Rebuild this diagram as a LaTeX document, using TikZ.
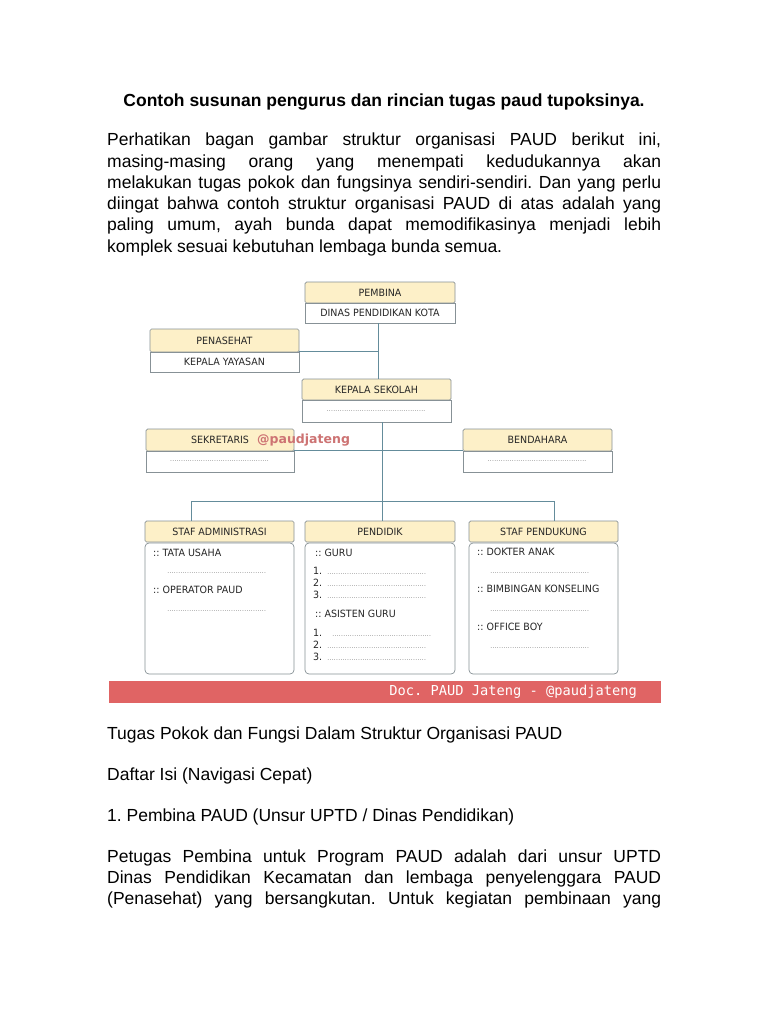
\documentclass[tikz,border=0pt]{standalone}
\usepackage{fontspec}
\setmainfont{Liberation Sans}
\newfontfamily\boxfont[FakeStretch=0.95]{DejaVu Sans}
\newfontfamily\wmfont{DejaVu Sans}
\newfontfamily\bannerfont{DejaVu Sans Mono}
\definecolor{hdrfill}{RGB}{253,240,200}
\definecolor{boxline}{RGB}{135,145,150}
\definecolor{conncol}{RGB}{100,140,155}
\definecolor{bannercol}{RGB}{224,100,100}
\definecolor{wmark}{RGB}{205,115,115}
\definecolor{dotcol}{RGB}{110,110,110}
\newcommand{\dotrow}[1]{\makebox[#1]{\leaders\hbox to 2.2pt{\hss.\hss}\hfill}}
\newcommand{\jline}[1]{\makebox[554pt][s]{#1}}
\frenchspacing
\begin{document}
\begin{tikzpicture}[x=1pt,y=-1pt,
  hdr/.style={draw=boxline, line width=0.7pt, fill=hdrfill, rounded corners=1.5pt, inner sep=0pt,
    font=\boxfont\fontsize{10}{12}\selectfont, text=black!85},
  bodyb/.style={draw=boxline, line width=0.7pt, fill=white, inner sep=0pt,
    font=\boxfont\fontsize{10}{12}\selectfont, text=black!85},
  listb/.style={bodyb, rounded corners=4pt},
  conn/.style={draw=conncol, line width=0.8pt},
  txt/.style={inner sep=0pt, anchor=base west, font=\fontsize{17.5}{21}\selectfont},
  item/.style={inner sep=0pt, anchor=west, font=\boxfont\fontsize{10}{12}\selectfont, text=black!85},
  num/.style={inner sep=0pt, anchor=base west, font=\boxfont\fontsize{10}{12}\selectfont, text=black!85},
  dotn/.style={inner sep=0pt, anchor=base west, text=dotcol, font=\wmfont\fontsize{6}{7}\selectfont}
]
\useasboundingbox[fill=white] (0,0) rectangle (768,1024);

% ---- text above ----
\node[inner sep=0pt, anchor=base, font=\bfseries\fontsize{17.5}{21}\selectfont] (title) at (384,107)
  {Contoh susunan pengurus dan rincian tugas paud tupoksinya.};
\node[txt] (p1) at (107,146) {\jline{Perhatikan bagan gambar struktur organisasi PAUD berikut ini,}};
\node[txt] (p2) at (107,167.2) {\jline{masing-masing orang yang menempati kedudukannya akan}};
\node[txt] (p3) at (107,188.4) {\jline{melakukan tugas pokok dan fungsinya sendiri-sendiri. Dan yang perlu}};
\node[txt] (p4) at (107,209.6) {\jline{diingat bahwa contoh struktur organisasi PAUD di atas adalah yang}};
\node[txt] (p5) at (107,230.8) {\jline{paling umum, ayah bunda dapat memodifikasinya menjadi lebih}};
\node[txt] (p6) at (107,252) {komplek sesuai kebutuhan lembaga bunda semua.};

% ---- connectors ----
\coordinate (trunkA) at (378,0);
\coordinate (trunkB) at (382,0);
\coordinate (busL) at (191,501);
\coordinate (busR) at (554,501);

% ---- boxes ----
\node[hdr, minimum width=150pt, minimum height=21pt] (pembinaH) at (380,292.5) {PEMBINA};
\node[bodyb, minimum width=150pt, minimum height=20pt] (pembinaB) at (380,313) {DINAS PENDIDIKAN KOTA};

\node[hdr, minimum width=149pt, minimum height=23pt] (penH) at (224.5,340.5) {PENASEHAT};
\node[bodyb, minimum width=149pt, minimum height=20pt] (penB) at (224.5,362) {KEPALA YAYASAN};

\node[hdr, minimum width=149pt, minimum height=21pt] (kepH) at (376.5,389.5) {KEPALA SEKOLAH};
\node[bodyb, minimum width=149pt, minimum height=22pt, text=dotcol, font=\wmfont\fontsize{6}{7}\selectfont] (kepB) at (376.5,411) {\dotrow{100pt}};

\node[hdr, minimum width=148pt, minimum height=22pt] (sekH) at (220,440) {SEKRETARIS};
\node[bodyb, minimum width=148pt, minimum height=21pt, text=dotcol, font=\wmfont\fontsize{6}{7}\selectfont] (sekB) at (220,461.5) {\dotrow{100pt}};

\node[hdr, minimum width=149pt, minimum height=22pt] (benH) at (537.5,440) {BENDAHARA};
\node[bodyb, minimum width=149pt, minimum height=21pt, text=dotcol, font=\wmfont\fontsize{6}{7}\selectfont] (benB) at (537.5,461.5) {\dotrow{100pt}};

\node[listb, minimum width=149pt, minimum height=131pt] (adminB) at (219.5,608.5) {};
\node[hdr, minimum width=149pt, minimum height=21pt] (adminH) at (219.5,531.5) {STAF ADMINISTRASI};
\node[listb, minimum width=150pt, minimum height=131pt] (pendB) at (380,608.5) {};
\node[hdr, minimum width=150pt, minimum height=21pt] (pendH) at (380,531.5) {PENDIDIK};
\node[listb, minimum width=149pt, minimum height=131pt] (dukB) at (543.5,608.5) {};
\node[hdr, minimum width=149pt, minimum height=21pt] (dukH) at (543.5,531.5) {STAF PENDUKUNG};

\draw[conn] (pembinaB.south -| trunkA) -- (kepH.north -| trunkA);
\draw[conn] (penB.north east) -- (penB.north east -| trunkA);
\draw[conn] (kepB.south -| trunkB) -- (pendH.north -| trunkB);
\draw[conn] (sekB.north east) -- (benB.north west);
\draw[conn] (adminH.north -| busL) -- (busL) -- (busR) -- (dukH.north -| busR);

% ---- list contents ----
\node[item] (a1) at (153,553) {:: TATA USAHA};
\node[dotn] (a1d) at (167,573) {\dotrow{100pt}};
\node[item] (a2) at (153,590) {:: OPERATOR PAUD};
\node[dotn] (a2d) at (167,611) {\dotrow{100pt}};

\node[item] (g0) at (315,553) {:: GURU};
\node[num] (g1) at (313,574.5) {1.};
\node[dotn] (g1d) at (327,574.5) {\dotrow{100pt}};
\node[num] (g2) at (313,586.5) {2.};
\node[dotn] (g2d) at (327,586.5) {\dotrow{100pt}};
\node[num] (g3) at (313,598.5) {3.};
\node[dotn] (g3d) at (327,598.5) {\dotrow{100pt}};
\node[item] (s0) at (315,614) {:: ASISTEN GURU};
\node[num] (s1) at (313,636.5) {1.};
\node[dotn] (s1d) at (332,636.5) {\dotrow{100pt}};
\node[num] (s2) at (313,648.5) {2.};
\node[dotn] (s2d) at (327,648.5) {\dotrow{100pt}};
\node[num] (s3) at (313,660.5) {3.};
\node[dotn] (s3d) at (327,660.5) {\dotrow{100pt}};

\node[item] (d1) at (477,552) {:: DOKTER ANAK};
\node[dotn] (d1d) at (490,573) {\dotrow{100pt}};
\node[item] (d2) at (477,589) {:: BIMBINGAN KONSELING};
\node[dotn] (d2d) at (490,611) {\dotrow{100pt}};
\node[item] (d3) at (477,627) {:: OFFICE BOY};
\node[dotn] (d3d) at (490,648) {\dotrow{100pt}};

% ---- watermark ----
\node[inner sep=0pt, anchor=west, text=wmark, font=\wmfont\bfseries\fontsize{12.5}{14}\selectfont] (wm) at (257,440) {@paudjateng};

% ---- banner ----
\node[fill=bannercol, minimum width=552pt, minimum height=22pt, inner sep=0pt] (banner) at (385,692) {};
\node[inner sep=0pt, anchor=east, text=white, font=\bannerfont\fontsize{13.7}{15}\selectfont] (bannertext) at (637,692) {Doc. PAUD Jateng - @paudjateng};

% ---- text below ----
\node[txt] (q1) at (107,739) {Tugas Pokok dan Fungsi Dalam Struktur Organisasi PAUD};
\node[txt] (q2) at (107,780) {Daftar Isi (Navigasi Cepat)};
\node[txt] (q3) at (107,821) {1. Pembina PAUD (Unsur UPTD / Dinas Pendidikan)};
\node[txt] (q4) at (107,862) {\jline{Petugas Pembina untuk Program PAUD adalah dari unsur UPTD}};
\node[txt] (q5) at (107,883) {\jline{Dinas Pendidikan Kecamatan dan lembaga penyelenggara PAUD}};
\node[txt] (q6) at (107,904) {\jline{(Penasehat) yang bersangkutan. Untuk kegiatan pembinaan yang}};
\end{tikzpicture}
\end{document}
